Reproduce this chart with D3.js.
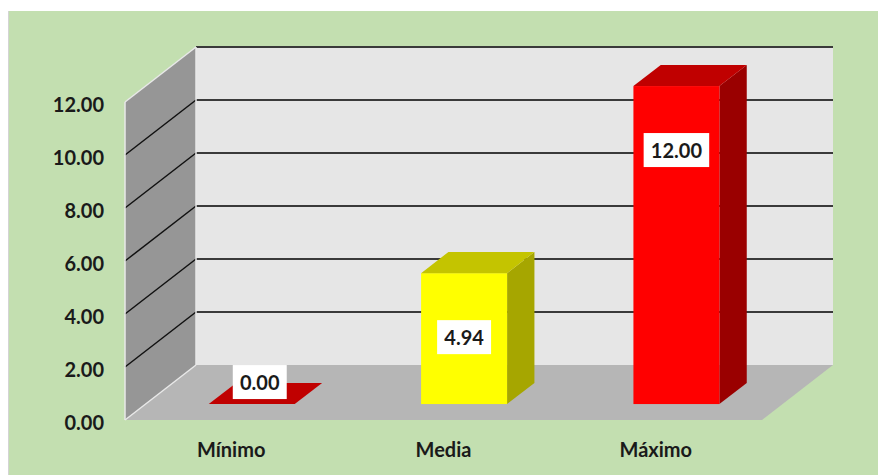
<!DOCTYPE html>
<html>
<head>
<meta charset="utf-8">
<script src="https://cdn.jsdelivr.net/npm/d3@7"></script>
<style>
  html, body { margin: 0; padding: 0; background: #fff; }
  svg { display: block; }
</style>
</head>
<body>
<div id="chart"></div>
<script>
// data
const categories = ['Mínimo', 'Media', 'Máximo']
const values = [0, 4.94, 12]
const valueLabels = ['0.00', '4.94', '12.00']
const yTicks = [0, 2, 4, 6, 8, 10, 12]

// colours per bar: front, top, side
const barColors = [
  { front: '#ff0000', top: '#c00000', side: '#9a0000' },
  { front: '#ffff00', top: '#c4c400', side: '#a6a600' },
  { front: '#ff0000', top: '#c00000', side: '#9a0000' }
]

const width = 878
const height = 475
const font = 'Lato, "Open Sans", sans-serif'

// front plane of the 3d box, plus depth offset to the back wall
const front = { left: 125, right: 762, bottom: 420, top: 102 }
const depth = { dx: 71, dy: -55 }

const svg = d3.select('#chart').append('svg')
  .attr('width', width)
  .attr('height', height)

// green chart area
svg.append('rect')
  .attr('x', 8).attr('y', 11)
  .attr('width', width - 8).attr('height', height - 11)
  .attr('fill', '#c3dfb0')
svg.append('line')
  .attr('x1', 8.5).attr('x2', 8.5).attr('y1', 11).attr('y2', height)
  .attr('stroke', '#d4d4d4')

const x = d3.scaleBand()
  .domain(categories)
  .range([front.left, front.right])
  .paddingInner(0)

const y = d3.scaleLinear()
  .domain([0, 12])
  .range([front.bottom, front.top])

// project (px on front plane, py on front plane, z 0..1 depth) to screen
const proj = (px, py, z) => [px + z * depth.dx, py + z * depth.dy]
const poly = pts => 'M' + pts.map(p => p.join(',')).join('L') + 'Z'

// side wall
svg.append('path')
  .attr('d', poly([
    proj(front.left, y(0), 0), proj(front.left, y(12), 0),
    proj(front.left, y(12), 1), proj(front.left, y(0), 1)
  ]))
  .attr('fill', '#969696')

// back wall
const backL = proj(front.left, 0, 1)[0]
const backR = proj(front.right, 0, 1)[0]
svg.append('rect')
  .attr('x', backL).attr('y', proj(0, y(12), 1)[1])
  .attr('width', backR - backL)
  .attr('height', y(0) - y(12))
  .attr('fill', '#e6e6e6')

// floor
svg.append('path')
  .attr('d', poly([
    proj(front.left, y(0), 0), proj(front.left, y(0), 1),
    proj(front.right, y(0), 1), proj(front.right, y(0), 0)
  ]))
  .attr('fill', '#b6b6b6')

// gridlines on the back wall
svg.append('g')
  .selectAll('line')
  .data(yTicks.filter(d => d > 0))
  .enter()
  .append('line')
  .attr('x1', backL).attr('x2', backR)
  .attr('y1', d => proj(0, y(d), 1)[1])
  .attr('y2', d => proj(0, y(d), 1)[1])
  .attr('stroke', '#3a3a3a')
  .attr('stroke-width', 2)

// gridlines on the side wall
svg.append('g')
  .selectAll('line')
  .data(yTicks.filter(d => d > 0 && d < 12))
  .enter()
  .append('line')
  .attr('x1', front.left).attr('y1', d => y(d))
  .attr('x2', backL).attr('y2', d => proj(0, y(d), 1)[1])
  .attr('stroke', '#111')
  .attr('stroke-width', 1.5)

// light edges of the box
const edges = [
  [proj(front.left, y(0), 0), proj(front.left, y(12), 0)],
  [proj(front.left, y(12), 0), proj(front.left, y(12), 1)],
  [proj(front.left, y(0), 0), proj(front.left, y(0), 1)],
  [proj(front.left, y(0), 1), proj(front.left, y(12), 1)]
]
svg.append('g')
  .selectAll('line')
  .data(edges)
  .enter()
  .append('line')
  .attr('x1', d => d[0][0]).attr('y1', d => d[0][1])
  .attr('x2', d => d[1][0]).attr('y2', d => d[1][1])
  .attr('stroke', '#e8e8e8')
  .attr('stroke-width', 1.5)

// bars
const barW = x.bandwidth() * 0.405
const z0 = 0.29
const z1 = 0.675
const bars = svg.append('g')

categories.forEach((c, i) => {
  const v = values[i]
  const xl = x(c) + x.bandwidth() / 2 - barW / 2 + z0 * depth.dx
  const xr = xl + barW
  const yb = y(0) + z0 * depth.dy
  const yt = y(v) + z0 * depth.dy
  const dz = z1 - z0
  const off = (p) => [p[0] + dz * depth.dx, p[1] + dz * depth.dy]
  const col = barColors[i]
  const g = bars.append('g')

  if (v > 0) {
    g.append('path')
      .attr('d', poly([[xr, yb], [xr, yt], off([xr, yt]), off([xr, yb])]))
      .attr('fill', col.side)
    g.append('rect')
      .attr('x', xl).attr('y', yt)
      .attr('width', barW).attr('height', yb - yt)
      .attr('fill', col.front)
  }
  g.append('path')
    .attr('d', poly([[xl, yt], [xr, yt], off([xr, yt]), off([xl, yt])]))
    .attr('fill', col.top)
})

// value labels in white boxes
const labels = svg.append('g')
  .style('font-family', font)
  .style('font-weight', 'bold')
  .style('font-size', '20px')

categories.forEach((c, i) => {
  const yb = y(0) + z0 * depth.dy
  const yt = y(values[i]) + z0 * depth.dy
  // flat bar: label sits a bit further back, over the top face
  const shift = values[i] > 0 ? 0 : 8
  const cx = x(c) + x.bandwidth() / 2 + z0 * depth.dx + shift
  const cy = Math.min(yt + 64, yb - 22)
  const t = labels.append('text')
    .attr('x', cx).attr('y', cy)
    .attr('text-anchor', 'middle')
    .attr('dominant-baseline', 'central')
    .attr('fill', '#1a1a1a')
    .text(valueLabels[i])
  const bb = t.node().getBBox()
  labels.insert('rect', 'text')
    .attr('x', cx - bb.width / 2 - 7)
    .attr('y', cy - 17)
    .attr('width', bb.width + 14)
    .attr('height', 34)
    .attr('fill', '#fff')
})

// y axis labels
svg.append('g')
  .selectAll('text')
  .data(yTicks)
  .enter()
  .append('text')
  .attr('x', 104)
  .attr('y', d => y(d) + 2)
  .attr('text-anchor', 'end')
  .attr('dominant-baseline', 'central')
  .style('font-family', font)
  .style('font-weight', 'bold')
  .style('font-size', '20px')
  .attr('fill', '#1a1a1a')
  .text(d => d3.format('.2f')(d))

// category labels
svg.append('g')
  .selectAll('text')
  .data(categories)
  .enter()
  .append('text')
  .attr('x', d => x(d) + x.bandwidth() / 2)
  .attr('y', 449)
  .attr('text-anchor', 'middle')
  .attr('dominant-baseline', 'central')
  .style('font-family', font)
  .style('font-weight', 'bold')
  .style('font-size', '20px')
  .attr('fill', '#1a1a1a')
  .text(d => d)
</script>
</body>
</html>
